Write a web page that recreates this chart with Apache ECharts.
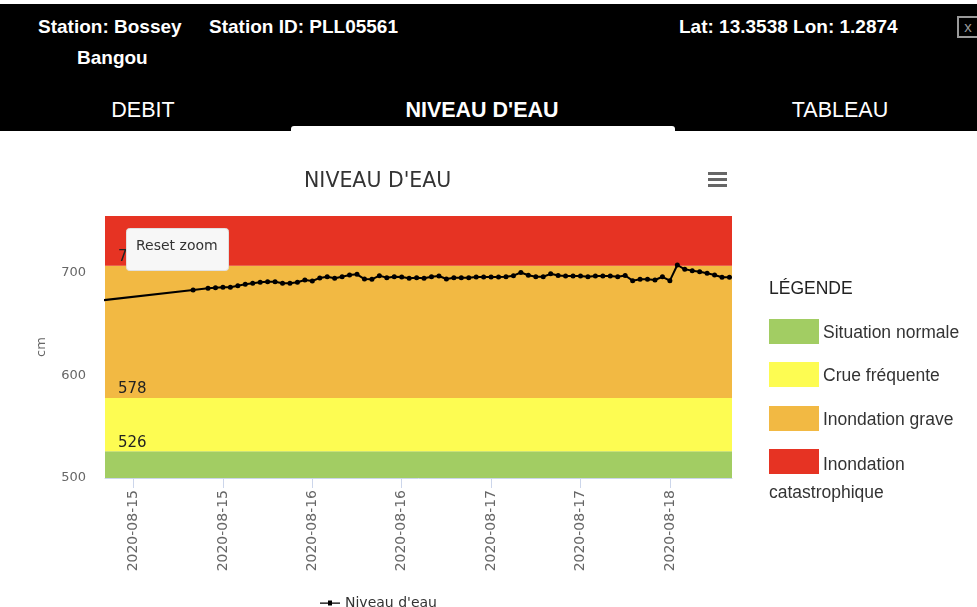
<!DOCTYPE html>
<html><head><meta charset="utf-8">
<script src="https://cdn.jsdelivr.net/npm/echarts@6/dist/echarts.min.js"></script>
<style>
html,body{margin:0;padding:0;width:977px;height:607px;overflow:hidden;background:#fff;font-family:"Liberation Sans",Arial,sans-serif;}
#hdr{position:absolute;left:0;top:4px;width:977px;height:127px;background:#000;color:#fff;z-index:2;}
.t{position:absolute;white-space:nowrap;}
#chart{position:absolute;left:0;top:0;width:977px;height:607px;z-index:1;}
#leg{position:absolute;left:0;top:0;z-index:3;}
.sw{position:absolute;width:50px;height:25px;}
.lt{position:absolute;font-size:17.5px;color:#333;white-space:nowrap;}
</style></head>
<body>
<div id="hdr">
  <div class="t" style="left:38px;top:12px;font-weight:bold;font-size:19px;">Station: Bossey</div>
  <div class="t" style="left:77px;top:43px;font-weight:bold;font-size:19px;">Bangou</div>
  <div class="t" style="left:209px;top:12px;font-weight:bold;font-size:19px;">Station ID: PLL05561</div>
  <div class="t" style="left:679px;top:12px;font-weight:bold;font-size:19px;">Lat: 13.3538 Lon: 1.2874</div>
  <div class="t" style="left:957px;top:12px;width:18px;height:18px;border:2px solid #999;color:#999;font-size:15px;line-height:17px;text-align:center;">x</div>
  <div class="t" style="left:43px;width:200px;text-align:center;top:94px;font-size:21.5px;">DEBIT</div>
  <div class="t" style="left:382px;width:200px;text-align:center;top:94px;font-size:21.5px;font-weight:bold;">NIVEAU D'EAU</div>
  <div class="t" style="left:740px;width:200px;text-align:center;top:94px;font-size:21.5px;">TABLEAU</div>
  <div class="t" style="left:291px;top:122px;width:384px;height:5px;background:#fff;border-radius:3px 3px 0 0;"></div>
</div>
<div id="chart"></div>
<div id="leg"></div>
<script>
// ---- data ----
const tickHours = [0, 12, 24, 36, 48, 60, 72];
const tickLabels = ['2020-08-15','2020-08-15','2020-08-16','2020-08-16','2020-08-17','2020-08-17','2020-08-18'];
const hours = [-4, 8,
  10,11,12,13,14,15,16,17,18,19,
  20,21,22,23,24,25,26,27,28,29,
  30,31,32,33,34,35,36,37,38,39,
  40,41,42,43,44,45,46,47,48,49,
  50,51,52,53,54,55,56,57,58,59,
  60,61,62,63,64,65,66,67,68,69,
  70,71,72,73,74,75,76,77,78,79,
  80];
const levels = [673.5, 683.4,
  685, 685.7, 686, 686, 687.6, 689, 690, 691, 691.5, 691.5,
  690, 690, 691, 693.2, 692.2, 695.2, 696.4, 694.8, 696.4, 698,
  698.7, 694.1, 693.8, 697.4, 695.4, 696.4, 696.1, 694.8, 695.4, 694.8,
  696.4, 697.1, 694.1, 695.4, 695.4, 695.4, 696, 696, 696, 696,
  696.4, 697.4, 700.5, 697.8, 696.3, 696.3, 699.2, 697.6, 697, 697,
  697, 696.3, 697, 697, 697, 696.3, 697.6, 692.5, 693.8, 693.8,
  693.2, 696.3, 692.5, 707.8, 703.6, 702.3, 701.3, 699.7, 698, 695.8,
  695.8];
const yTicks = [500, 600, 700];
const thresholds = [526, 578, 707];
const bandNames = ['Situation normale', 'Crue fréquente', 'Inondation grave', 'Inondation catastrophique'];
const bandColors = ['#a2cd63', '#fdfc52', '#f2b943', '#e63323'];
const seriesName = "Niveau d'eau";
const chartTitle = "NIVEAU D'EAU";

// ---- layout ----
const X_MIN = -3.83, X_MAX = 80.34, Y_MIN = 500, Y_MAX = 755.6;
const bandEdges = [Y_MIN].concat(thresholds, [Y_MAX]);

const chart = echarts.init(document.getElementById('chart'), null, {renderer: 'canvas'});
const font = '"DejaVu Sans", sans-serif';
chart.setOption({
  animation: false,
  title: {text: chartTitle, left: 299, top: 166,
    textStyle: {fontFamily: font, fontSize: 20.5, fontWeight: 'normal', color: '#333'}},
  grid: {left: 105, top: 216, width: 627, height: 262, containLabel: false},
  legend: {left: 315, top: 591, itemWidth: 20, itemHeight: 8, itemGap: 3,
    textStyle: {fontFamily: font, fontSize: 14, color: '#333'},
    data: [{name: seriesName, icon: 'path://M0,3.5 L20,3.5 L20,4.8 L0,4.8 Z M8,1.5 L12,1.5 L12,6.5 L8,6.5 Z'}]},
  xAxis: {type: 'value', min: X_MIN, max: X_MAX,
    axisLine: {show: true, lineStyle: {color: '#ccd6eb'}},
    axisTick: {show: true, length: 10, lineStyle: {color: '#ccd6eb'}, customValues: tickHours},
    splitLine: {show: false},
    axisLabel: {rotate: 90, margin: 12, color: '#666', fontFamily: font, fontSize: 14,
      customValues: tickHours,
      formatter: v => tickLabels[tickHours.indexOf(v)] || ''}},
  yAxis: {type: 'value', min: Y_MIN, max: Y_MAX,
    name: 'cm', nameLocation: 'middle', nameGap: 57,
    nameTextStyle: {color: '#666', fontFamily: font, fontSize: 13},
    axisLine: {show: false}, axisTick: {show: false}, splitLine: {show: false},
    axisLabel: {margin: 19, color: '#666', fontFamily: font, fontSize: 13, customValues: yTicks}},
  graphic: [
    {type: 'group', left: 708, top: 172, children: [
      {type: 'rect', shape: {x: 0, y: 0, width: 19, height: 3}, style: {fill: '#666'}},
      {type: 'rect', shape: {x: 0, y: 6, width: 19, height: 3}, style: {fill: '#666'}},
      {type: 'rect', shape: {x: 0, y: 12, width: 19, height: 3}, style: {fill: '#666'}}]},
    {type: 'rect', left: 126, top: 228, z: 100, zlevel: 1, shape: {width: 102, height: 42, r: 3},
      style: {fill: '#f7f7f7', stroke: '#e0e0e0', lineWidth: 1}},
    {type: 'text', left: 136, top: 239, z: 101, zlevel: 1,
      style: {text: 'Reset zoom', fill: '#333', font: '14px ' + font}}
  ],
  series: [{
    name: seriesName, type: 'line', clip: true,
    data: hours.map((h, i) => [h, levels[i]]),
    symbol: 'circle', symbolSize: 5, showSymbol: true,
    itemStyle: {color: '#000'}, lineStyle: {color: '#000', width: 2},
    markArea: {silent: true,
      data: bandColors.map((c, i) => [
        {yAxis: bandEdges[i], itemStyle: {color: c, opacity: 1}},
        {yAxis: bandEdges[i + 1]}])},
    markLine: {silent: true, symbol: 'none',
      lineStyle: {width: 1, color: 'transparent', type: 'solid'},
      label: {show: true, position: 'insideStartTop', distance: [13, 1], color: '#222',
        fontFamily: font, fontSize: 15, formatter: p => String(p.value)},
      data: thresholds.map(t => ({yAxis: t}))}
  }]
});

// ---- custom band legend ----
const leg = document.getElementById('leg');
let html = '<div class="lt" style="left:769px;top:278px;color:#222;">LÉGENDE</div>';
const swTops = [319, 362, 406, 449];
bandNames.forEach((n, i) => {
  html += '<div class="sw" style="left:769px;top:' + swTops[i] + 'px;background:' + bandColors[i] + '"></div>';
  if (i < 3) {
    html += '<div class="lt" style="left:823px;top:' + (swTops[i] + 3) + 'px;">' + n + '</div>';
  } else {
    const parts = n.split(' ');
    html += '<div class="lt" style="left:823px;top:' + (swTops[i] + 5) + 'px;">' + parts[0] + '</div>';
    html += '<div class="lt" style="left:769px;top:' + (swTops[i] + 33) + 'px;">' + parts[1] + '</div>';
  }
});
leg.innerHTML = html;
</script>
</body></html>
